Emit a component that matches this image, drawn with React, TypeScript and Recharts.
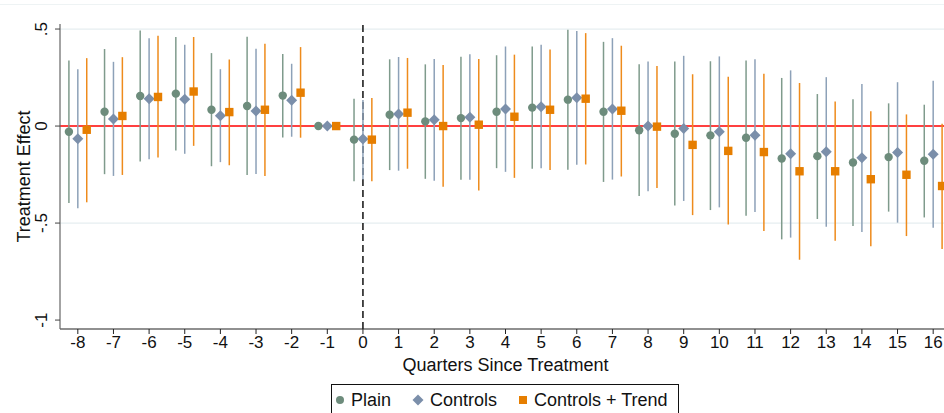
import { ComposedChart, Scatter, ErrorBar, XAxis, YAxis, ReferenceLine } from 'recharts';

// quarters relative to treatment
const quarters = [-8, -7, -6, -5, -4, -3, -2, -1, 0, 1, 2, 3, 4, 5, 6, 7, 8, 9, 10, 11, 12, 13, 14, 15, 16];

const plainEst = [-0.029, 0.074, 0.155, 0.167, 0.084, 0.103, 0.157, 0, -0.07, 0.058, 0.024, 0.041, 0.074, 0.095, 0.136, 0.074, -0.022, -0.04, -0.048, -0.06, -0.167, -0.155, -0.188, -0.16, -0.179];
const plainHi = [0.338, 0.397, 0.493, 0.459, 0.376, 0.46, 0.372, 0, 0.141, 0.344, 0.318, 0.357, 0.365, 0.41, 0.497, 0.434, 0.318, 0.333, 0.334, 0.338, 0.248, 0.165, 0.138, 0.117, 0.11];
const plainLo = [-0.397, -0.248, -0.183, -0.126, -0.207, -0.252, -0.059, 0, -0.284, -0.227, -0.272, -0.277, -0.217, -0.22, -0.225, -0.288, -0.36, -0.41, -0.433, -0.462, -0.584, -0.479, -0.515, -0.441, -0.471];

const ctrlEst = [-0.066, 0.036, 0.141, 0.138, 0.053, 0.078, 0.133, 0, -0.067, 0.062, 0.033, 0.045, 0.088, 0.1, 0.146, 0.088, 0, -0.012, -0.029, -0.048, -0.143, -0.133, -0.164, -0.136, -0.145];
const ctrlHi = [0.293, 0.331, 0.452, 0.419, 0.293, 0.398, 0.321, 0, 0.134, 0.356, 0.346, 0.37, 0.41, 0.419, 0.49, 0.453, 0.333, 0.362, 0.359, 0.344, 0.287, 0.252, 0.217, 0.226, 0.233];
const ctrlLo = [-0.424, -0.257, -0.171, -0.143, -0.186, -0.247, -0.055, 0, -0.275, -0.23, -0.282, -0.277, -0.236, -0.218, -0.2, -0.276, -0.336, -0.386, -0.419, -0.443, -0.575, -0.519, -0.546, -0.498, -0.524];

const trendEst = [-0.019, 0.052, 0.15, 0.178, 0.072, 0.084, 0.172, 0, -0.07, 0.069, 0.0, 0.007, 0.048, 0.084, 0.141, 0.079, -0.003, -0.097, -0.128, -0.134, -0.233, -0.233, -0.274, -0.251, -0.309];
const trendHi = [0.35, 0.355, 0.466, 0.459, 0.343, 0.424, 0.407, 0, 0.144, 0.351, 0.315, 0.346, 0.368, 0.394, 0.479, 0.414, 0.31, 0.267, 0.254, 0.27, 0.222, 0.126, 0.076, 0.06, 0.012];
const trendLo = [-0.393, -0.252, -0.162, -0.102, -0.202, -0.257, -0.06, 0, -0.284, -0.22, -0.313, -0.332, -0.267, -0.227, -0.198, -0.26, -0.319, -0.459, -0.508, -0.541, -0.689, -0.591, -0.619, -0.567, -0.634];

const yTicks = [0.5, 0, -0.5, -1];
const yTickLabels = ['.5', '0', '-.5', '-1'];

const FONT = '"Liberation Sans", Arial, sans-serif';
const C = {
  plain: '#6d8c7c',
  plainCI: '#7f9b8c',
  ctrl: '#7b8faa',
  ctrlCI: '#8da1b8',
  trend: '#e67e00',
  trendCI: '#ee8b1c',
};

const build = (est: number[], lo: number[], hi: number[], off: number) =>
  quarters.map((q, i) => ({ x: q + off, y: est[i], err: [est[i] - lo[i], hi[i] - est[i]] }));

const plainData = build(plainEst, plainLo, plainHi, -0.25);
const ctrlData = build(ctrlEst, ctrlLo, ctrlHi, 0);
const trendData = build(trendEst, trendLo, trendHi, 0.25);

const Dot = (p: any) => <circle cx={p.cx} cy={p.cy} r={4.2} fill={C.plain} />;
const Diamond = (p: any) => (
  <polygon
    points={`${p.cx},${p.cy - 5.5} ${p.cx + 5.5},${p.cy} ${p.cx},${p.cy + 5.5} ${p.cx - 5.5},${p.cy}`}
    fill={C.ctrl}
  />
);
const Square = (p: any) => <rect x={p.cx - 4.2} y={p.cy - 4.2} width={8.4} height={8.4} fill={C.trend} />;

const XTick = ({ x, y, payload }: any) => (
  <text x={x} y={y + 12} textAnchor="middle" fontSize={17} fontFamily={FONT} fill="#111">
    {payload.value}
  </text>
);

const YTick = ({ y, payload, index }: any) => (
  <text
    x={47}
    y={y}
    textAnchor="middle"
    fontSize={17}
    fontFamily={FONT}
    fill="#111"
    transform={`rotate(-90, 47, ${y})`}
  >
    {yTickLabels[index] ?? payload.value}
  </text>
);

const LegendItem = ({ left, label, children }: any) => (
  <div style={{ position: 'absolute', left, top: 0, height: 30, display: 'flex', alignItems: 'center' }}>
    {children}
    <span style={{ marginLeft: 6, fontSize: 18, fontFamily: FONT, color: '#111' }}>{label}</span>
  </div>
);

export default function App() {
  return (
    <div style={{ position: 'fixed', left: 0, top: 0, width: 944, height: 413, overflow: 'hidden', background: '#fff' }}>
      <div style={{ position: 'absolute', left: 0, top: 4, width: 944, height: 1, background: '#eef3f4' }} />
      <ComposedChart width={951} height={413} margin={{ top: 24, right: 0, bottom: 0, left: 0 }}>
        <XAxis
          type="number"
          dataKey="x"
          domain={[-8.5, 16.5]}
          ticks={quarters}
          interval={0}
          allowDataOverflow
          tickSize={5}
          tick={<XTick />}
          axisLine={{ stroke: '#222', strokeWidth: 1.2 }}
          tickLine={{ stroke: '#222' }}
          height={84}
          label={(props: any) => {
            const vb = props.viewBox;
            return (
              <text x={vb.x + vb.width / 2} y={371} textAnchor="middle" fontSize={18} fontFamily={FONT} fill="#111">
                Quarters Since Treatment
              </text>
            );
          }}
        />
        <YAxis
          type="number"
          dataKey="y"
          domain={[-1.046, 0.526]}
          ticks={yTicks}
          allowDataOverflow
          width={60}
          tickSize={5}
          tick={<YTick />}
          axisLine={{ stroke: '#666', strokeWidth: 1.2 }}
          tickLine={{ stroke: '#444' }}
          label={(props: any) => {
            const vb = props.viewBox;
            const cy = vb.y + vb.height / 2;
            return (
              <text
                x={30}
                y={cy}
                textAnchor="middle"
                fontSize={18}
                fontFamily={FONT}
                fill="#111"
                transform={`rotate(-90, 30, ${cy})`}
              >
                Treatment Effect
              </text>
            );
          }}
        />
        <ReferenceLine y={0.5} stroke="#e6eef0" strokeWidth={1.2} />
        <ReferenceLine y={-0.5} stroke="#e6eef0" strokeWidth={1.2} />
        <ReferenceLine y={0} stroke="#ff0000" strokeWidth={1.6} />
        <ReferenceLine x={0} stroke="#111" strokeWidth={1.5} strokeDasharray="7 4" />
        <Scatter data={plainData} dataKey="y" shape={Dot} isAnimationActive={false}>
          <ErrorBar dataKey="err" direction="y" width={0} stroke={C.plainCI} strokeWidth={1.5} isAnimationActive={false} />
        </Scatter>
        <Scatter data={ctrlData} dataKey="y" shape={Diamond} isAnimationActive={false}>
          <ErrorBar dataKey="err" direction="y" width={0} stroke={C.ctrlCI} strokeWidth={1.5} isAnimationActive={false} />
        </Scatter>
        <Scatter data={trendData} dataKey="y" shape={Square} isAnimationActive={false}>
          <ErrorBar dataKey="err" direction="y" width={0} stroke={C.trendCI} strokeWidth={1.5} isAnimationActive={false} />
        </Scatter>
      </ComposedChart>
      <div
        style={{
          position: 'absolute',
          left: 331,
          top: 384,
          width: 348,
          height: 40,
          border: '1px solid #111',
          background: '#fff',
          boxSizing: 'border-box',
        }}
      >
        <LegendItem left={3} label="Plain">
          <svg width={10} height={10}><circle cx={5} cy={5} r={4} fill={C.plain} /></svg>
        </LegendItem>
        <LegendItem left={80} label="Controls">
          <svg width={12} height={12}><polygon points="6,0.5 11.5,6 6,11.5 0.5,6" fill={C.ctrl} /></svg>
        </LegendItem>
        <LegendItem left={186} label="Controls + Trend">
          <svg width={10} height={10}><rect x={1} y={1} width={8} height={8} fill={C.trend} /></svg>
        </LegendItem>
      </div>
    </div>
  );
}
